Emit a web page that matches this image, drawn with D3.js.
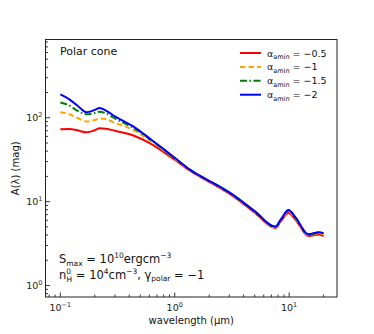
<!DOCTYPE html>
<html>
<head>
<meta charset="utf-8">
<style>
  body { margin: 0; background: #fff; }
  svg { font-family: "DejaVu Sans", sans-serif; }
</style>
</head>
<body>
<div id="container"></div>
<script src="https://d3js.org/d3.v7.min.js"></script>
<script>
// wavelengths (micron) shared by all curves
const wavelength = [0.1, 0.12, 0.14, 0.17, 0.2, 0.22, 0.25, 0.3, 0.44, 0.61, 0.8, 1, 1.37, 2.5, 3.05, 5, 7.55, 8.5, 9.86, 11.5, 14.7, 18.3, 20];
const aMinHalf = [72.8, 73.5, 71, 67, 71, 75, 74, 70, 61, 49.5, 39, 31.6, 23.2, 14.5, 12.3, 7.4, 4.85, 5.9, 7.34, 5.95, 3.9, 4.05, 3.87];
const aMin1 = [116, 110, 100, 90, 94, 98, 96, 87, 71, 53.5, 41, 32.6, 23.6, 14.8, 12.5, 7.6, 4.95, 6.05, 7.65, 6.15, 4.0, 4.2, 4.05];
const aMin15 = [152, 140, 122, 110, 114, 118, 113, 98, 75, 55, 41.8, 33, 23.8, 14.9, 12.6, 7.65, 5.0, 6.15, 7.85, 6.3, 4.05, 4.28, 4.15];
const aMin2 = [190, 166, 141, 116, 124, 131, 122, 104, 78, 56, 42.3, 33.3, 23.9, 15.0, 12.7, 7.7, 5.04, 6.2, 7.96, 6.35, 4.09, 4.32, 4.2];
const seriesLabels = ["\u22120.5", "\u22121", "\u22121.5", "\u22122"];
const xTickValues = [0.1, 1, 10];
const xTickExp = ["\u22121", "0", "1"];
const yTickValues = [1, 10, 100];
const yTickExp = ["0", "1", "2"];

const width = 374, height = 334;
const marginLeft = 45.5, marginRight = 337, marginTop = 39.5, marginBottom = 297;

const x = d3.scaleLog().domain([0.0742, 26.2]).range([marginLeft, marginRight]);
const y = d3.scaleLog().domain([0.73, 857]).range([marginBottom, marginTop]);

const svg = d3.select("#container").append("svg")
    .attr("width", width)
    .attr("height", height);

const series = [
  {vals: aMinHalf, color: "#ff0000", dash: null},
  {vals: aMin1, color: "#ffa500", dash: "5.5,3"},
  {vals: aMin15, color: "#008000", dash: "7,2.5,1.5,2.5"},
  {vals: aMin2, color: "#0000ff", dash: null}
];

const line = d3.line()
    .x(d => x(d[0]))
    .y(d => y(d[1]))
    .curve(d3.curveMonotoneX);

svg.append("defs").append("clipPath").attr("id", "clip")
  .append("rect").attr("x", marginLeft).attr("y", marginTop)
  .attr("width", marginRight - marginLeft).attr("height", marginBottom - marginTop);

const plot = svg.append("g").attr("clip-path", "url(#clip)");
series.forEach(s => {
  plot.append("path")
    .attr("fill", "none")
    .attr("stroke", s.color)
    .attr("stroke-width", 2)
    .attr("stroke-dasharray", s.dash)
    .attr("d", line(wavelength.map((w, i) => [w, s.vals[i]])));
});

// ticks (inward)
const xMinor = [];
for (let e = -2; e <= 1; e++) for (let m = 2; m <= 9; m++) xMinor.push(m * Math.pow(10, e));
const yMinor = [];
for (let e = -1; e <= 2; e++) for (let m = 2; m <= 9; m++) yMinor.push(m * Math.pow(10, e));

const ticks = svg.append("g").attr("stroke", "#000").attr("stroke-width", 0.8);
ticks.selectAll(".xmin").data(xMinor.filter(v => x(v) > marginLeft && x(v) < marginRight))
  .join("line").attr("class", "xmin").attr("x1", d => x(d)).attr("x2", d => x(d))
  .attr("y1", marginBottom).attr("y2", marginBottom - 2.5);
ticks.selectAll(".xmaj").data(xTickValues)
  .join("line").attr("class", "xmaj").attr("x1", d => x(d)).attr("x2", d => x(d))
  .attr("y1", marginBottom).attr("y2", marginBottom - 4.5);
ticks.selectAll(".ymin").data(yMinor.filter(v => y(v) > marginTop && y(v) < marginBottom))
  .join("line").attr("class", "ymin").attr("x1", marginLeft).attr("x2", marginLeft + 2.5)
  .attr("y1", d => y(d)).attr("y2", d => y(d));
ticks.selectAll(".ymaj").data(yTickValues)
  .join("line").attr("class", "ymaj").attr("x1", marginLeft).attr("x2", marginLeft + 4.5)
  .attr("y1", d => y(d)).attr("y2", d => y(d));

// frame
svg.append("rect")
  .attr("x", marginLeft).attr("y", marginTop)
  .attr("width", marginRight - marginLeft).attr("height", marginBottom - marginTop)
  .attr("fill", "none").attr("stroke", "#222").attr("stroke-width", 1);

// tick labels
xTickValues.forEach((v, i) => {
  const t = svg.append("text")
    .attr("x", x(v)).attr("y", marginBottom + 14)
    .attr("text-anchor", "middle")
    .attr("font-size", 9.5).attr("fill", "#222");
  t.append("tspan").text("10");
  t.append("tspan").attr("dy", -4).attr("font-size", 6.5).text(xTickExp[i]);
});
yTickValues.forEach((v, i) => {
  const t = svg.append("text")
    .attr("x", marginLeft - 3).attr("y", y(v) + 3.5)
    .attr("text-anchor", "end")
    .attr("font-size", 9.5).attr("fill", "#222");
  t.append("tspan").text("10");
  t.append("tspan").attr("dy", -4).attr("font-size", 6.5).text(yTickExp[i]);
});

// axis labels
svg.append("text")
  .attr("x", (marginLeft + marginRight) / 2).attr("y", 324)
  .attr("text-anchor", "middle").attr("font-size", 10).attr("fill", "#111")
  .text("wavelength (\u03bcm)");
svg.append("text")
  .attr("transform", `translate(19,${(marginTop + marginBottom) / 2}) rotate(-90)`)
  .attr("text-anchor", "middle").attr("font-size", 10).attr("fill", "#111")
  .text("A(\u03bb) (mag)");

// title inside panel
svg.append("text")
  .attr("x", 60).attr("y", 55)
  .attr("font-size", 11).attr("fill", "#111")
  .text("Polar cone");

// legend
const legend = svg.append("g");
series.forEach((s, i) => {
  const ly = 53 + i * 13.9;
  legend.append("line")
    .attr("x1", 240).attr("x2", 261)
    .attr("y1", ly).attr("y2", ly)
    .attr("stroke", s.color).attr("stroke-width", 2)
    .attr("stroke-dasharray", s.dash);
  const t = legend.append("text")
    .attr("x", 267).attr("y", ly + 3.5)
    .attr("font-size", 9.5).attr("fill", "#111");
  t.append("tspan").text("\u03b1");
  t.append("tspan").attr("dy", 2.5).attr("font-size", 6.5).text("amin");
  t.append("tspan").attr("dy", -2.5).text(" = " + seriesLabels[i]);
});

// annotations
const a1 = svg.append("text").attr("x", 59).attr("y", 263)
  .attr("font-size", 11.5).attr("fill", "#111");
a1.append("tspan").text("S");
a1.append("tspan").attr("dy", 2.5).attr("font-size", 7.5).text("max");
a1.append("tspan").attr("dy", -2.5).text(" = 10");
a1.append("tspan").attr("dy", -5).attr("font-size", 7.5).text("10");
a1.append("tspan").attr("dy", 5).text("ergcm");
a1.append("tspan").attr("dy", -5).attr("font-size", 7.5).text("\u22123");

const a2 = svg.append("text").attr("x", 59).attr("y", 278.5)
  .attr("font-size", 11.5).attr("fill", "#111");
a2.append("tspan").text("n");
a2.append("tspan").attr("dy", -5).attr("font-size", 7.5).text("0");
a2.append("tspan").attr("dx", -4.5).attr("dy", 8).attr("font-size", 7.5).text("H");
a2.append("tspan").attr("dy", -3).text(" = 10");
a2.append("tspan").attr("dy", -5).attr("font-size", 7.5).text("4");
a2.append("tspan").attr("dy", 5).text("cm");
a2.append("tspan").attr("dy", -5).attr("font-size", 7.5).text("\u22123");
a2.append("tspan").attr("dy", 5).text(", \u03b3");
a2.append("tspan").attr("dy", 2.5).attr("font-size", 7.5).text("polar");
a2.append("tspan").attr("dy", -2.5).text(" = \u22121");
</script>
</body>
</html>
